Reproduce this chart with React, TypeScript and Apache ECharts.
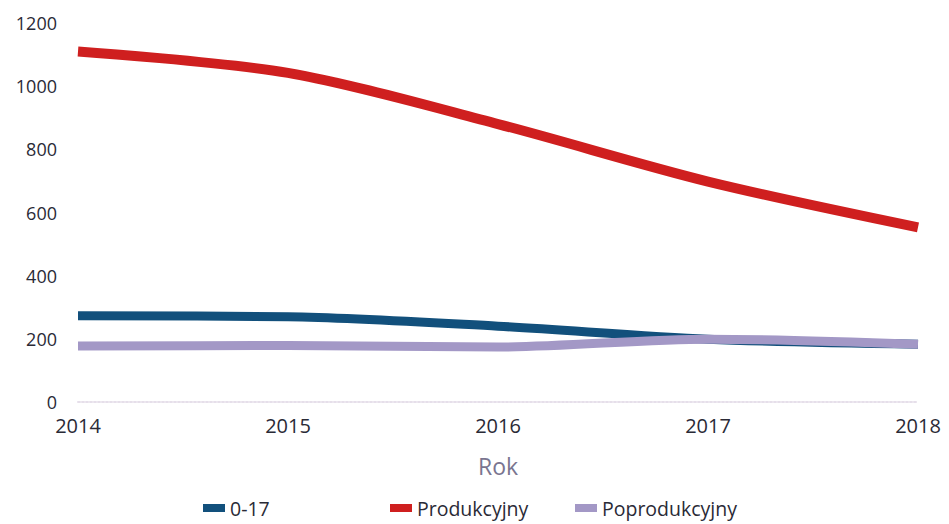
import React, { useEffect, useRef } from "react";
import * as echarts from "echarts";

const years = ["2014", "2015", "2016", "2017", "2018"];
const youth = [273, 270, 240, 199, 183];
const working = [1110, 1042, 880, 698, 553];
const postWorking = [177, 179, 174, 199, 183];
const yTicks = [0, 200, 400, 600, 800, 1000, 1200];

const seriesNames = ["0-17", "Produkcyjny", "Poprodukcyjny"];
const colors = ["#12507c", "#cf1f1f", "#a398c6"];

export default function App() {
  const ref = useRef<HTMLDivElement>(null);
  useEffect(() => {
    if (!ref.current) return;
    const chart = echarts.init(ref.current, null, { renderer: "svg" });
    const font = "Open Sans";
    const legendLefts = [198, 385, 570];
    chart.setOption({
      animation: false,
      color: colors,
      grid: { left: 78, right: 31, top: 23, bottom: 122 },
      xAxis: {
        type: "category",
        data: years,
        boundaryGap: false,
        name: "Rok",
        nameLocation: "middle",
        nameGap: 52,
        nameTextStyle: { fontFamily: font, fontSize: 23, color: "#7a7590" },
        axisLine: { show: true, lineStyle: { color: "#e6dfea", type: "dotted", width: 2 } },
        axisTick: { show: false },
        axisLabel: { fontFamily: font, fontSize: 20, color: "#2a2a36", margin: 13 },
        splitLine: { show: false },
      },
      yAxis: {
        type: "value",
        min: yTicks[0],
        max: yTicks[yTicks.length - 1],
        interval: 200,
        axisLine: { show: false },
        axisTick: { show: false },
        axisLabel: {
          fontFamily: font,
          fontSize: 18,
          color: "#2a2a36",
          margin: 21,
          formatter: (v: number) => String(v),
        },
        splitLine: { show: false },
      },
      legend: seriesNames.map((n, i) => ({
        left: legendLefts[i],
        top: 496,
        padding: [0, 5, 0, 5],
        itemWidth: 22,
        itemHeight: 8,
        itemGap: 6,
        icon: "rect",
        textStyle: { fontFamily: font, fontSize: 19.5, color: "#2a2a36", lineHeight: 24 },
        data: [n],
      })),
      series: [
        {
          name: "Poprodukcyjny",
          type: "line",
          data: postWorking,
          smooth: 0.3,
          showSymbol: false,
          symbol: "none",
          lineStyle: { width: 9, color: colors[2] },
          itemStyle: { color: colors[2] },
          z: 2,
        },
        {
          name: "0-17",
          type: "line",
          data: youth,
          smooth: 0.3,
          showSymbol: false,
          symbol: "none",
          lineStyle: { width: 9, color: colors[0] },
          itemStyle: { color: colors[0] },
          z: 1,
        },
        {
          name: "Produkcyjny",
          type: "line",
          data: working,
          smooth: 0.3,
          showSymbol: false,
          symbol: "none",
          lineStyle: { width: 10, color: colors[1] },
          itemStyle: { color: colors[1] },
          z: 3,
        },
      ],
    });
    return () => chart.dispose();
  }, []);
  return <div ref={ref} style={{ width: 949, height: 524, position: "absolute", left: 0, top: 0 }} />;
}
